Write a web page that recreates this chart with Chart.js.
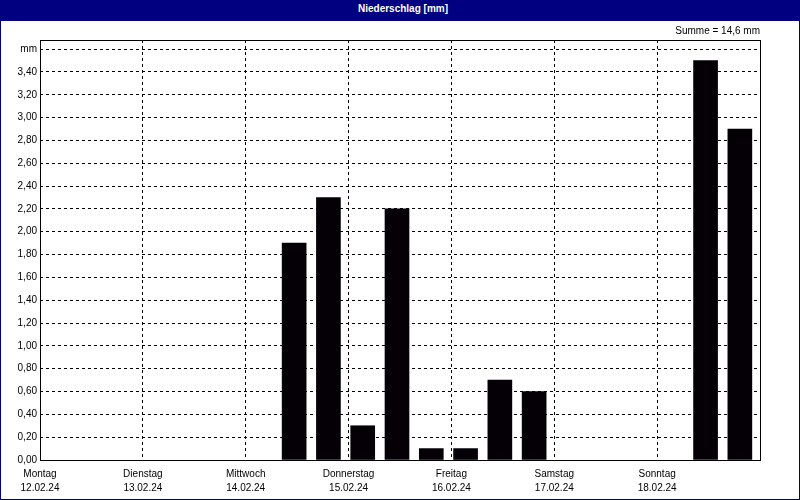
<!DOCTYPE html>
<html lang="de">
<head>
<meta charset="utf-8">
<title>Niederschlag [mm]</title>
<script src="https://cdn.jsdelivr.net/npm/chart.js@4.4.1/dist/chart.umd.min.js"></script>
<style>
    html, body {
        margin: 0;
        padding: 0;
        background: #ffffff;
    }
    #rahmen {
        width: 800px;
        height: 500px;
        box-sizing: border-box;
        border: 1px solid #000080;
        background: #ffffff;
    }
    #kopf {
        height: 20px;
        background: #000080;
        color: #ffffff;
        font: bold 10px "Liberation Sans", Arial, sans-serif;
        line-height: 16px;
        padding-left: 6px;
        box-sizing: border-box;
        text-align: center;
    }
    #box {
        position: relative;
        width: 798px;
        height: 478px;
    }
</style>
</head>
<body>
<div id="rahmen">
    <div id="kopf">Niederschlag [mm]</div>
    <div id="box"><canvas id="grafico-niederschlag"></canvas></div>
</div>

<script>
//-------------------------- Daten --------------------------
const tage = ["Montag", "Dienstag", "Mittwoch", "Donnerstag", "Freitag", "Samstag", "Sonntag"];
const datum = ["12.02.24", "13.02.24", "14.02.24", "15.02.24", "16.02.24", "17.02.24", "18.02.24"];

// 8-Stunden-Intervalle ab Montag 00:00 (Stunde des Intervallbeginns)
const stunden = [0, 8, 16, 24, 32, 40, 48, 56, 64, 72, 80, 88, 96, 104, 112, 120, 128, 136, 144, 152, 160];
const niederschlag = [0, 0, 0, 0, 0, 0, 0, 1.9, 2.3, 0.3, 2.2, 0.1, 0.1, 0.7, 0.6, 0, 0, 0, 0, 3.5, 2.9];

const summe = niederschlag.reduce((acc, v) => acc + v, 0);

//-------------------------- Grafik --------------------------
const balkenVersatz = 3.3; // Balken sitzen links im Intervall

const rahmenPlugin = {
    id: "rahmenPlugin",
    afterDraw(chart) {
        const { ctx, chartArea } = chart;
        ctx.save();
        ctx.strokeStyle = "#000000";
        ctx.lineWidth = 1;
        ctx.strokeRect(
            Math.round(chartArea.left) + 0.5,
            Math.round(chartArea.top) + 0.5,
            Math.round(chartArea.right - chartArea.left),
            Math.round(chartArea.bottom - chartArea.top)
        );
        ctx.restore();
    },
};

const ctx = document.getElementById("grafico-niederschlag").getContext("2d");

new Chart(ctx, {
    type: "bar",
    data: {
        datasets: [
            {
                label: "Niederschlag",
                // Intervalle ohne Niederschlag bekommen keinen Balken
                data: stunden.map((h, i) => ({
                    x: h + balkenVersatz,
                    y: niederschlag[i] > 0 ? niederschlag[i] : null,
                })),
                backgroundColor: "#040006",
                borderWidth: 0,
                barThickness: 24,
            },
        ],
    },
    options: {
        responsive: true,
        maintainAspectRatio: false,
        animation: false,
        layout: {
            padding: { top: 0, right: 39, bottom: 0, left: 0 },
        },
        font: { family: "'Liberation Sans', Arial, sans-serif", size: 10 },
        plugins: {
            legend: { display: false },
            tooltip: { enabled: false },
            title: {
                display: true,
                text: `Summe = ${summe.toFixed(1).replace(".", ",")} mm`,
                align: "end",
                color: "#000000",
                font: { size: 10, weight: "normal" },
                padding: { top: 4, bottom: 3 },
            },
        },
        scales: {
            x: {
                type: "linear",
                min: 0,
                max: 168,
                offset: false,
                grid: {
                    offset: false,
                    color: "#000000",
                    lineWidth: 1,
                    drawTicks: false,
                },
                border: { display: false, dash: [3, 3] },
                ticks: {
                    stepSize: 24,
                    autoSkip: false,
                    maxRotation: 0,
                    padding: 7,
                    color: "#000000",
                    font: { size: 10, lineHeight: 1.4 },
                    callback: (value) => {
                        const i = value / 24;
                        if (i >= tage.length) return "";
                        return [tage[i], datum[i]];
                    },
                },
                afterFit: (scale) => {
                    scale.height = 39;
                },
            },
            y: {
                min: 0,
                max: 3.68,
                grid: {
                    color: "#000000",
                    lineWidth: 1,
                    drawTicks: false,
                },
                border: { display: false, dash: [3, 3] },
                ticks: {
                    stepSize: 0.2,
                    includeBounds: false,
                    padding: 3,
                    color: "#000000",
                    font: { size: 10 },
                    callback: (value) => {
                        if (Math.abs(value - 3.6) < 0.001) return "mm";
                        return value.toFixed(2).replace(".", ",");
                    },
                },
                afterFit: (scale) => {
                    scale.width = 39;
                },
            },
        },
    },
    plugins: [rahmenPlugin],
});
</script>
</body>
</html>
